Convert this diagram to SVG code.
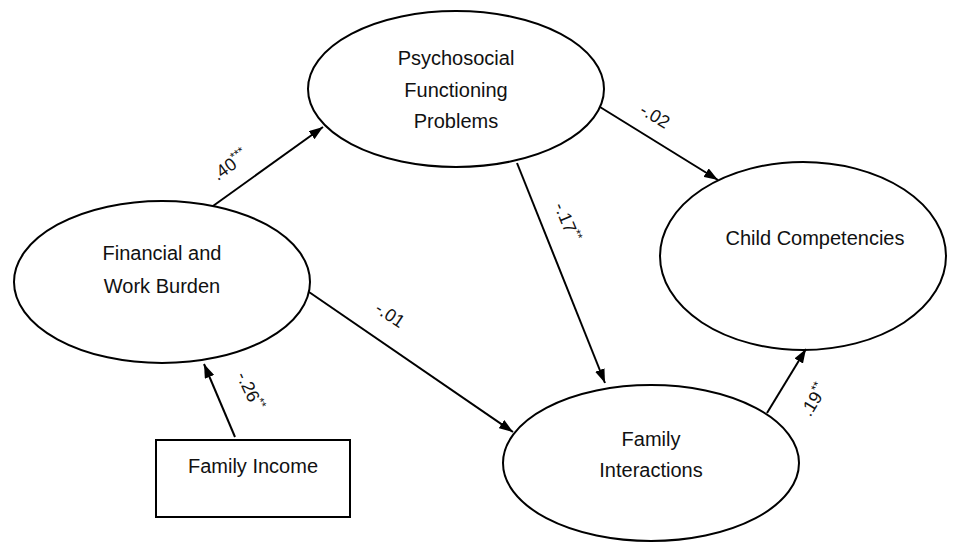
<svg xmlns="http://www.w3.org/2000/svg" width="975" height="544" viewBox="0 0 975 544">
<defs>
<marker id="ah" viewBox="0 0 14 10" refX="14" refY="5" markerWidth="14" markerHeight="10" orient="auto" markerUnits="userSpaceOnUse"><path d="M0,0 L14,5 L0,10 z" fill="#000"/></marker>
<style>
.shape{fill:#fff;stroke:#000;stroke-width:2}
.node{font-family:"Liberation Sans",Arial,sans-serif;font-size:20px;fill:#111;text-anchor:middle}
.edge{stroke:#000;stroke-width:2;fill:none;marker-end:url(#ah)}
.lbl{font-family:"Liberation Sans",Arial,sans-serif;font-size:18px;fill:#111;text-anchor:middle}
.sup{font-size:12px}
</style>
</defs>
<rect width="975" height="544" fill="#fff"/>
<g id="fin">
<ellipse class="shape" cx="162" cy="282" rx="148" ry="81"/>
<text class="node" x="162" y="260">Financial and</text>
<text class="node" x="162" y="293">Work Burden</text>
</g>
<g id="psy">
<ellipse class="shape" cx="456" cy="89" rx="148" ry="78"/>
<text class="node" x="456" y="65">Psychosocial</text>
<text class="node" x="456" y="97">Functioning</text>
<text class="node" x="456" y="128">Problems</text>
</g>
<g id="child">
<ellipse class="shape" cx="803" cy="256" rx="143" ry="94"/>
<text class="node" x="815" y="245">Child Competencies</text>
</g>
<g id="fam">
<ellipse class="shape" cx="651" cy="463" rx="148" ry="78"/>
<text class="node" x="651" y="446">Family</text>
<text class="node" x="651" y="477">Interactions</text>
</g>
<g id="income">
<rect class="shape" x="156" y="440" width="194" height="77"/>
<text class="node" x="253" y="473">Family Income</text>
</g>
<g id="connectors">
<line class="edge" x1="213" y1="206" x2="323" y2="127"/>
<line class="edge" x1="600" y1="107" x2="718" y2="180"/>
<line class="edge" x1="517" y1="163" x2="605" y2="383"/>
<line class="edge" x1="309" y1="292" x2="513" y2="432"/>
<line class="edge" x1="235" y1="437" x2="204" y2="364"/>
<line class="edge" x1="767" y1="413" x2="806" y2="349"/>
<text class="lbl" transform="translate(230,165) rotate(-36)" x="0" y="6">.40<tspan class="sup" dy="-7">***</tspan></text>
<text class="lbl" transform="translate(655,116) rotate(31)" x="0" y="6">-.02</text>
<text class="lbl" transform="translate(567,222) rotate(68)" x="0" y="6">-.17<tspan class="sup" dy="-7">**</tspan></text>
<text class="lbl" transform="translate(390,315) rotate(34)" x="0" y="6">-.01</text>
<text class="lbl" transform="translate(250,391) rotate(65)" x="0" y="6">-.26<tspan class="sup" dy="-7">**</tspan></text>
<text class="lbl" transform="translate(814,400) rotate(-59)" x="0" y="6">.19<tspan class="sup" dy="-7">**</tspan></text>
</g>
</svg>
